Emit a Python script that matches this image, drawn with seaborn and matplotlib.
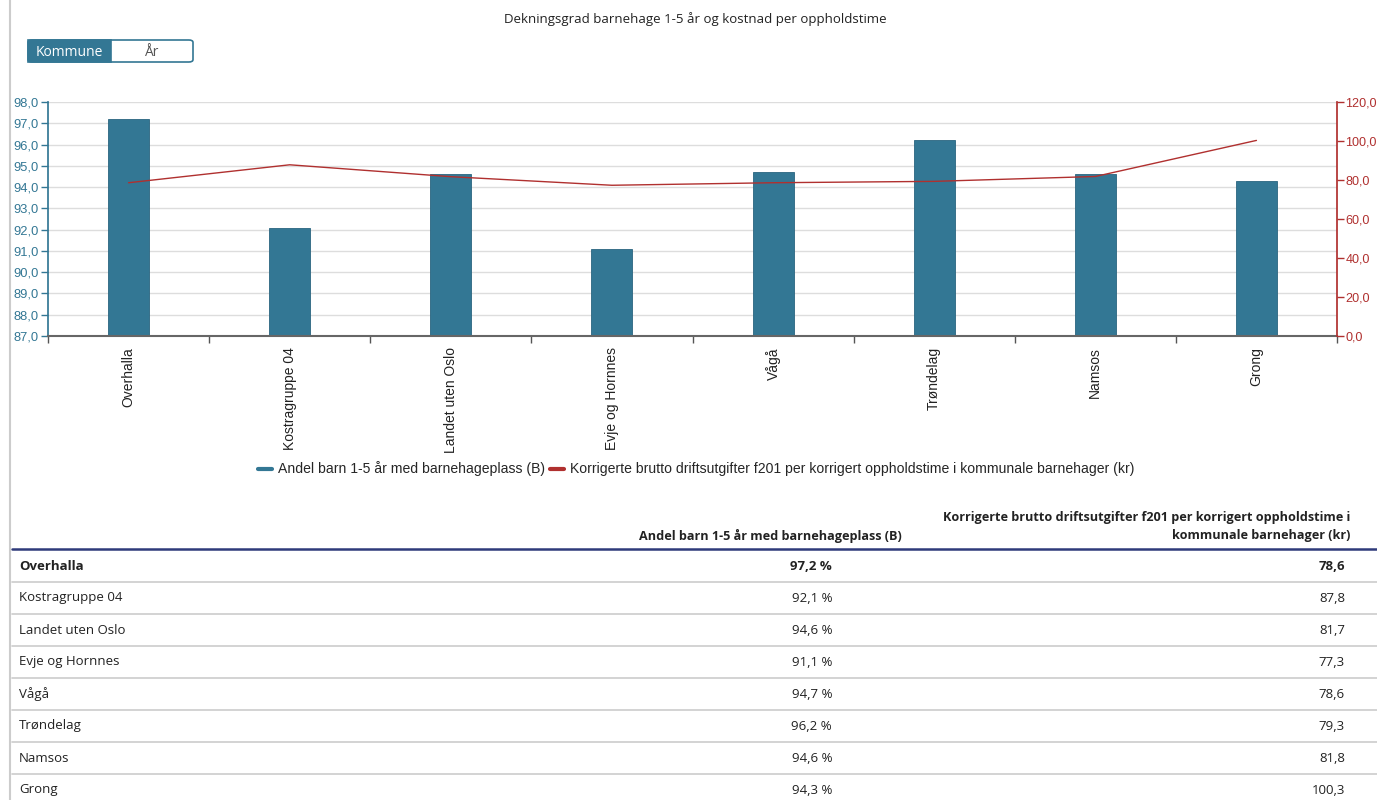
import matplotlib
matplotlib.use("Agg")
import matplotlib.pyplot as plt
import seaborn as sns
import pandas as pd
import numpy as np
from matplotlib.patches import FancyBboxPatch, Rectangle
from matplotlib.lines import Line2D

# data ------------------------------------------------------------------
kommuner = ["Overhalla", "Kostragruppe 04", "Landet uten Oslo", "Evje og Hornnes",
            "Vågå", "Trøndelag", "Namsos", "Grong"]
andel_barn = [97.2, 92.1, 94.6, 91.1, 94.7, 96.2, 94.6, 94.3]
kostnad = [78.6, 87.8, 81.7, 77.3, 78.6, 79.3, 81.8, 100.3]
serie_navn = ["Andel barn 1-5 år med barnehageplass (B)",
              "Korrigerte brutto driftsutgifter f201 per korrigert oppholdstime i kommunale barnehager (kr)"]
tittel = "Dekningsgrad barnehage 1-5 år og kostnad per oppholdstime"

BLUE = "#337794"
RED = "#b0302f"
W, H = 1377, 800

sns.set_theme(style="white")
plt.rcParams["font.family"] = ["Liberation Sans", "DejaVu Sans"]

fig = plt.figure(figsize=(W / 100, H / 100), dpi=100)


def fx(x):
    return x / W


def fy(y):
    return 1 - y / H


# chart axes (pixel box 48..1337 x 102..336)
ax = fig.add_axes([fx(48), fy(336), fx(1337 - 48), (336 - 102) / H])
df = pd.DataFrame({"kommune": kommuner, "andel": andel_barn, "kostnad": kostnad})
sns.barplot(data=df, x="kommune", y="andel", color=BLUE, width=0.255, ax=ax,
            edgecolor="#2a6580", linewidth=0.6, saturation=1, zorder=2)
ax.set_ylim(87, 98)
ax.set_xlim(-0.5, len(kommuner) - 0.5)
ax.set_yticks(np.arange(87, 98.1, 1))
ax.set_yticklabels([f"{v:.1f}".replace(".", ",") for v in np.arange(87, 98.1, 1)])
ax.yaxis.grid(True, color="#dddddd", linewidth=1)
ax.set_axisbelow(True)
ax.tick_params(axis="y", colors=BLUE, labelsize=9.3, length=5, width=1, left=True, pad=2)
ax.set_xticks(np.arange(-0.5, len(kommuner) - 0.4, 1), minor=True)
ax.set_xticks(range(len(kommuner)))
ax.set_xticklabels(kommuner, rotation=90, va="top", ha="center", fontsize=10, color="#222222")
ax.tick_params(axis="x", which="major", length=0, pad=8)
ax.tick_params(axis="x", which="minor", length=5, color="#555555", bottom=True)
ax.set_xlabel("")
ax.set_ylabel("")
for s in ["top", "right"]:
    ax.spines[s].set_visible(False)
ax.spines["left"].set_color(BLUE)
ax.spines["bottom"].set_color("#666666")
ax.spines["bottom"].set_linewidth(1.5)

ax2 = ax.twinx()
sns.lineplot(data=df, x="kommune", y="kostnad", color=RED, linewidth=1, ax=ax2, sort=False)
ax2.set_ylim(0, 120)
ax2.set_yticks(np.arange(0, 121, 20))
ax2.set_yticklabels([f"{v:.1f}".replace(".", ",") for v in np.arange(0, 121, 20)])
ax2.tick_params(axis="y", colors=RED, labelsize=9.1, length=5, width=1, right=True, pad=1)
ax2.set_ylabel("")
ax2.grid(False)
for s in ["top", "left", "bottom"]:
    ax2.spines[s].set_visible(False)
ax2.spines["right"].set_color(RED)

# legend
handles = [Line2D([0], [0], color=BLUE, lw=3), Line2D([0], [0], color=RED, lw=3)]
fig.legend(handles, serie_navn, loc="center", bbox_to_anchor=(fx(696), fy(469)), ncol=2,
           frameon=False, fontsize=10.1, handlelength=1.0, columnspacing=0.4, handletextpad=0.4)

# title
fig.text(fx(695), fy(19), tittel, ha="center", va="center", fontsize=9.5,
         family=["Open Sans", "DejaVu Sans"], color="#222222")

# page border line on the left
fig.add_artist(Line2D([fx(10), fx(10)], [fy(0), fy(800)], color="#cccccc", lw=1.5))

# toggle buttons
fig.add_artist(FancyBboxPatch((fx(28), fy(62)), fx(165), 22 / H,
                              boxstyle="round,pad=0,rounding_size=0.003",
                              facecolor="white", edgecolor=BLUE, lw=1.2))
fig.add_artist(Rectangle((fx(28), fy(62)), fx(83), 22 / H, facecolor=BLUE, edgecolor=BLUE, lw=1.2))
fig.text(fx(69), fy(52), "Kommune", ha="center", va="center", color="white",
         fontsize=10, family=["Open Sans", "DejaVu Sans"])
fig.text(fx(152), fy(52), "År", ha="center", va="center", color="#555555",
         fontsize=10, family=["Open Sans", "DejaVu Sans"])

# table
tfont = ["Open Sans", "DejaVu Sans"]
fig.text(fx(902), fy(536), serie_navn[0], ha="right", va="center", fontsize=9.1,
         fontweight="bold", family=tfont, color="#222222")
fig.text(fx(1350), fy(527), "Korrigerte brutto driftsutgifter f201 per korrigert oppholdstime i\nkommunale barnehager (kr)",
         ha="right", va="center", fontsize=9.1, fontweight="bold", family=tfont,
         color="#222222", linespacing=1.5, multialignment="right")
fig.add_artist(Line2D([fx(12), fx(1377)], [fy(549), fy(549)], color="#2f3a7a", lw=1.8))

for i, (k, a, c) in enumerate(zip(kommuner, andel_barn, kostnad)):
    yc = 566 + 32 * i
    w = "bold" if i == 0 else "normal"
    fig.text(fx(19), fy(yc), k, ha="left", va="center", fontsize=9.5, fontweight=w,
             family=tfont, color="#222222")
    fig.text(fx(832), fy(yc), f"{a:.1f} %".replace(".", ","), ha="right", va="center",
             fontsize=9.5, fontweight=w, family=tfont, color="#222222")
    fig.text(fx(1345), fy(yc), f"{c:.1f}".replace(".", ","), ha="right", va="center",
             fontsize=9.5, fontweight=w, family=tfont, color="#222222")
    if i < len(kommuner) - 1:
        fig.add_artist(Line2D([fx(12), fx(1377)], [fy(yc + 16), fy(yc + 16)],
                              color="#cccccc", lw=1.2))

fig.savefig("out.png", dpi=100)
